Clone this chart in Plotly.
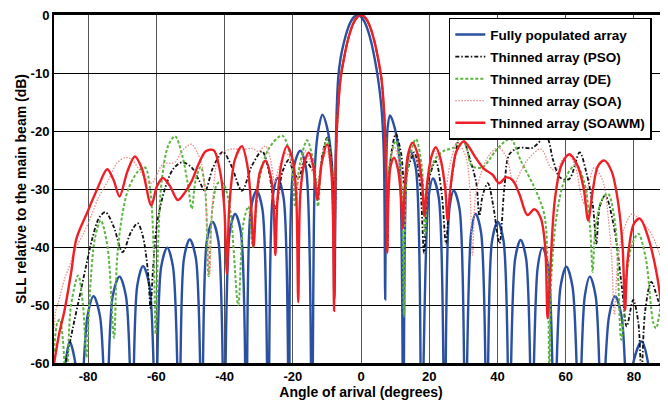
import plotly.graph_objects as go

# ---------------- data ----------------
full_x = [-90, -88.5, -86.5, -85.4, -83.9, -82.4, -80.2, -78.4, -76.5, -74.7, -72.8, -70.8, -68.9, -67.1, -65.6,
          -63.9, -62.0, -60.2, -58.6, -56.8, -55.1, -53.3, -51.9, -50.2, -48.4, -46.7, -45.2, -43.5, -41.8, -40.1,
          -38.5, -36.9, -35.2, -33.6, -32.3, -30.6, -28.9, -27.2, -25.9, -24.5, -22.7, -21.1, -19.8, -17.8, -16.1,
          -14.4, -13.4, -12.4, -11.3, -9.9, -8.5, -7.8, -7.4, -7.1, -6.7,
          -6.0, -5.0, -4.0, -3.0, -2.0, -1.0, 0, 1.0, 2.0, 3.0, 4.0, 5.0, 6.0,
          6.7, 7.1, 7.4, 7.8, 8.5, 9.9, 11.3, 12.4, 13.4, 14.4, 16.1, 17.8, 19.8, 21.1, 22.8,
          24.5, 25.9, 27.2, 28.9, 30.6, 32.3, 33.6, 35.2, 36.9, 38.4, 40.1, 41.8, 43.5, 45.2, 46.8, 48.4, 50.1,
          51.8, 53.2, 54.9, 56.7, 58.5, 60.2, 62.0, 63.9, 65.6, 67.1, 68.8, 70.6, 72.7, 74.5, 76.4, 78.3, 80.0,
          82.3, 84.0, 85.4, 86.5, 88.5, 90]
full_y = [-64, -70, -59.5, -56.3, -59.5, -70, -52, -48.5, -52, -70, -48.5, -45.1, -48.5, -70,
          -46.7, -43.3, -46.7, -70, -43.5, -40.1, -43.5, -70, -42, -38.7, -42, -70, -39, -35.7, -39,
          -70, -37.5, -34.3, -37.5, -70, -33.5, -30.3, -33.5, -70, -31.5, -28.1, -31.5, -70, -26.5, -23.4,
          -26.5, -70, -25, -19.5, -17.2, -19.5, -26, -49, -24, -16,
          -11, -7.5, -4.7, -2.6, -1.15, -0.3, 0, -0.3, -1.15, -2.6, -4.7, -7.5, -11,
          -16, -24, -49, -26, -19.5, -17.3, -19.5, -25, -70, -26.5, -23.4, -26.5, -70, -31.5, -28.2,
          -31.5, -70, -33.5, -30.3, -33.5, -70, -37.5, -34.3, -37.5, -70, -39, -35.7, -39, -70, -42, -38.8, -42,
          -70, -43.5, -40.1, -43.5, -70, -46.8, -43.4, -46.8, -70, -48.5, -45.1, -48.5, -70, -52, -48.5, -52, -70,
          -59.5, -56.3, -59.5, -70, -64, -62]

pso_x = [-90, -87.5, -86.4, -84.5, -82.7, -80.5, -78.8, -76.8, -74.9, -72.5, -69.9, -67.5, -65.5, -64.0, -62.5,
         -61.7, -61.0, -59.8, -57.4, -55.0, -52.5, -49.6, -47.5, -45.7, -43.5, -40.5, -38.0, -34.9, -32.0, -29.0,
         -27.0, -25.1, -23.0, -21.2, -19.5, -18.2, -16.5, -14.0, -12.7, -11.3, -9.9, -8.8, -8.1, -7.8, -7.4, -7.1,
         -6.7, -6.0, -5.0, -4.0, -3.0, -2.0, -1.0, 0, 1.0, 2.0, 3.0, 4.0, 5.0, 6.0,
         6.7, 7.1, 7.4, 7.8, 8.3, 10.2, 11.8, 12.7, 14.0, 15.6,
         17.3, 18.5, 19.7, 21.9, 23.7, 24.9, 26.2, 29.3, 32.0, 33.8, 34.7, 35.7, 37.2, 38.8, 40.6, 42.0, 43.5,
         46.3, 50.2, 54.3, 56.3, 58.3, 61.0, 64.1, 66.0, 68.0, 69.0, 70.0, 71.6, 74.0, 76.5, 77.9, 79.8, 81.3,
         82.2, 83.3, 85.1, 87.0, 88.6, 90]
pso_y = [-66, -62, -59.4, -54, -49.1, -43, -38.6, -35, -34, -36.5, -40.9, -37.5, -35.9, -38, -44,
         -50.5, -44, -36, -29.8, -26.5, -25.4, -26.3, -28.5, -30.3, -26.5, -23.6, -26, -30.3, -26, -23.5,
         -27, -33.3, -27, -25, -27.5, -28, -25.2, -27, -30, -24, -21.1, -24.5, -32, -45, -27, -20,
         -16, -11, -7.5, -4.7, -2.6, -1.15, -0.3, 0, -0.3, -1.15, -2.6, -4.7, -7.5, -11,
         -16, -20, -27, -40, -27, -20.5, -24, -29, -26, -23.7,
         -29, -41, -29, -25.2, -31, -39.4, -30, -20.6, -25, -29, -34.6, -31, -29, -33, -39.4, -30, -24,
         -22.9, -22.9, -21, -25, -28, -28.3, -23.7, -27, -33, -39.4, -33, -31.1, -36, -47, -53.7, -49.1, -53,
         -62, -51, -46, -49, -52, -60]

de_x = [-90, -89.0, -88.3, -87.4, -86.4, -85.0, -82.9, -81.5, -80.5, -79.5, -78.0, -76.3, -74.3, -72.4, -71.5,
        -70.0, -68.2, -65.4, -63.3, -61.8, -60.8, -60.2, -59.5, -58.5, -56.5, -54.5, -52.5, -50.8, -49.6, -48.5,
        -47.0, -45.7, -44.7, -43.5, -42.0, -40.5, -38.5, -36.0, -34.5, -33.0, -31.7, -30.0, -27.0, -23.1, -20.5,
        -19.3, -18.0, -15.8, -13.5, -12.6, -11.5, -9.9, -8.7, -8.0, -7.4, -7.1, -6.7,
        -6.0, -5.0, -4.0, -3.0, -2.0, -1.0, 0, 1.0, 2.0, 3.0, 4.0, 5.0, 6.0,
        6.7, 7.1, 7.7, 8.3, 10.2, 11.6, 12.6, 13.6, 16.1, 17.8, 18.8, 19.8, 22.0, 24.4, 27.3,
        29.3, 31.0, 32.5, 35.5, 39.5, 42.4, 44.0, 46.9, 50.8, 53.7, 54.8, 55.2, 55.8, 57.5, 60.0, 63.0, 65.5,
        67.2, 67.9, 68.7, 70.5, 72.4, 74.5, 76.3, 78.0, 79.5, 81.3, 83.5, 85.7, 86.5, 88.0, 89.0, 90]
de_y = [-58, -53, -52.5, -56, -64, -50, -44.9, -50, -59, -48, -38.5, -35.4, -40, -55.7, -42,
        -34.5, -30, -27, -26.3, -30, -40, -55, -40, -29, -22.5, -20.9, -24, -29, -33.4, -28.5,
        -26.2, -30, -45, -33, -29, -29, -33, -50, -36, -33, -40, -29, -23, -20.8, -25,
        -33, -26, -21.6, -27, -33, -25, -21.4, -26, -40, -25, -20, -16,
        -11, -7.5, -4.7, -2.6, -1.15, -0.3, 0, -0.3, -1.15, -2.6, -4.7, -7.5, -11,
        -16, -20, -35, -26, -21.7, -26, -52, -27, -21.4, -26, -38, -28, -24.6, -23.4, -22.8,
        -20.8, -23, -26, -26.3, -23.4, -21.7, -21.4, -25.2, -29.7, -34.3, -45, -64, -45, -34, -28, -25.8, -29,
        -37, -44.3, -37, -32, -30.8, -36, -56, -44, -39.5, -37.7, -42, -53.1, -54, -50, -48.5, -49]

soa_x = [-90, -89.5, -88.8, -86.9, -85.9, -83.9, -81.2, -79.0, -77.0, -74.1, -71.5, -69.2, -67.5, -65.4, -63.5,
         -61.4, -59.8, -58.1, -54.6, -52.5, -50.7, -49.6, -48.2, -46.7, -45.5, -44.4, -43.5, -42.0, -40.0, -37.8,
         -35.0, -32.0, -30.0, -28.0, -26.5, -25.3, -24.2, -22.0, -20.0, -19.0, -18.0, -16.3, -14.5, -13.0, -11.5,
         -10.0, -8.8, -8.1, -7.5, -7.1, -6.7,
         -6.0, -5.0, -4.0, -3.0, -2.0, -1.0, 0, 1.0, 2.0, 3.0, 4.0, 5.0, 6.0,
         6.7, 7.1, 7.5, 8.0,
         8.7, 9.7, 11.0, 12.3, 13.3, 15.1, 16.8, 18.5, 19.8, 21.5, 23.5, 24.8, 26.0, 28.3, 30.8, 31.9, 32.7, 33.6,
         35.2, 37.2, 40.2, 42.6, 44.9, 46.8, 48.8, 52.7, 55.6, 57.1, 59.6, 61.0, 62.8, 64.5, 65.5, 66.8, 68.4,
         70.9, 72.5, 73.5, 74.3, 75.2, 77.0, 79.5, 82.0, 84.7, 86.5, 88.6, 90]
soa_y = [-54, -51, -49.7, -45.5, -44, -40.6, -37.5, -34.5, -31.5, -28.5, -25.5, -24.6, -24.8, -26.3, -28,
         -29, -27.5, -25.7, -25.4, -23.5, -22.5, -22.3, -23.5, -25.7, -32, -45, -32, -25, -23.5, -23.1,
         -23.2, -23, -23.5, -22.6, -25, -29, -26.5, -23.8, -26, -31, -27, -23.4, -26, -29, -25.5,
         -23.5, -27, -36, -26, -20, -16,
         -11, -7.5, -4.7, -2.6, -1.15, -0.3, 0, -0.3, -1.15, -2.6, -4.7, -7.5, -11,
         -16, -20, -26, -34,
         -26, -22.6, -25, -32, -26.5, -24, -26, -32, -27, -23.5, -26, -30, -26, -22, -24.5, -30, -41.4, -31,
         -27.3, -24.5, -22.8, -24.5, -29.1, -27, -25, -23.1, -26.3, -26.9, -24.5, -24.2, -26, -31, -32.6, -29, -26.3,
         -28.6, -35, -42, -51.7, -43, -37, -34.3, -35.5, -37.3, -39.5, -43, -45]

soawm_x = [-90.5, -88.5, -86.9, -85.0, -83.4, -80.0, -77.1, -74.4, -72.5, -70.8, -68.5, -66.3, -64.2, -61.5,
           -59.8, -58.1, -56.0, -53.7, -51.5, -49.6, -47.6, -45.5, -43.2, -41.3, -40.1, -39.3, -38.6, -37.0, -34.9,
           -33.3, -32.3, -31.5, -30.7, -29.6, -28.0, -26.4, -25.6, -25.1, -24.5, -23.3, -21.7, -20.0, -19.0,
           -18.4, -17.8, -16.6, -15.3, -14.0, -12.8, -11.5, -9.9, -8.7, -8.2, -7.9, -7.5, -7.1, -6.7,
           -6.0, -5.0, -4.0, -3.0, -2.0, -1.0, 0, 1.0, 2.0, 3.0, 4.0, 5.0, 6.0,
           6.7, 7.1, 7.4, 7.7, 8.1, 8.7, 9.7, 10.8, 11.7, 12.2, 12.8, 13.8, 15.1,
           16.6, 17.9, 18.6, 19.4, 20.6, 21.9, 23.4, 24.7, 25.4, 26.2, 28.0, 30.2, 33.5, 36.0, 38.5, 40.5, 42.5,
           44.5, 46.5, 48.8, 50.8, 52.7, 54.0, 54.7, 55.4, 56.8, 58.7, 61.1, 63.5, 65.3, 66.6, 68.0, 69.5, 71.4,
           73.5, 75.3, 76.7, 77.4, 78.2, 80.0, 81.8, 84.0, 86.5, 88.0, 89.1, 90.5]
soawm_y = [-62, -55, -50.9, -44.5, -38.5, -33.7, -29.7, -26.6, -28.5, -31.3, -27, -24.4, -26.5, -32.8,
           -29.5, -28.1, -29.5, -31.9, -30.5, -28.6, -25.7, -23.5, -23.3, -27, -33, -44.6, -33, -25, -22.6,
           -26, -32, -40, -32, -27, -25.1, -28, -33, -41.4, -32, -25.5, -22.6, -25, -31,
           -49.5, -31, -25.5, -23.7, -26, -31.8, -25.5, -22.3, -27, -35, -51, -28, -20, -16,
           -11, -7.5, -4.7, -2.6, -1.15, -0.3, 0, -0.3, -1.15, -2.6, -4.7, -7.5, -11,
           -16, -22, -28, -41, -30, -26, -24.6, -26.5, -31, -36.8, -30, -24, -22,
           -24, -29, -34.6, -29, -24.5, -22.8, -25, -30, -35.4, -30, -23.5, -21.8, -24.5, -26.5, -27.5, -29, -28,
           -28.5, -31, -34.5, -33.5, -35, -40, -52.3, -45, -32, -26, -24, -26, -30, -35.4, -30, -26, -25.1,
           -27, -32, -40, -50.9, -42, -36, -35.1, -38, -44, -50, -59.4, -63]

names = ["Fully populated array", "Thinned array (PSO)", "Thinned array (DE)",
         "Thinned array (SOA)", "Thinned array (SOAWM)"]
x_ticks = [-80, -60, -40, -20, 0, 20, 40, 60, 80]
y_ticks = [0, -10, -20, -30, -40, -50, -60]

# ---------------- figure ----------------
FONT = "Arial, Liberation Sans, sans-serif"
series = [
    (full_x, full_y, dict(color="#2a50a2", width=2.4)),
    (pso_x, pso_y, dict(color="#111111", width=1.8, dash="4px,2px,1.5px,2px")),
    (de_x, de_y, dict(color="#5cb440", width=2.0, dash="3px,2px")),
    (soa_x, soa_y, dict(color="#f28a8a", width=1.3, dash="1.5px,1.5px")),
    (soawm_x, soawm_y, dict(color="#ee1f26", width=2.4)),
]

fig = go.Figure()
for i, ((xs, ys, ln), nm) in enumerate(zip(series, names)):
    fig.add_trace(go.Scatter(x=xs, y=ys, mode="lines", name=nm, legendgroup=f"g{i}",
                             line=dict(shape="spline", smoothing=0.9, **ln)))

# the page body has an 8px margin, so the figure is drawn 8px smaller with 8px smaller left/top margins
fig.update_layout(
    width=660, height=400,
    margin=dict(l=46, r=0, t=5, b=45),
    paper_bgcolor="white", plot_bgcolor="white",
    font=dict(family=FONT, size=13, color="black"),
    legend=dict(x=0.643, y=0.992, xanchor="left", yanchor="top",
                bgcolor="white", bordercolor="black", borderwidth=1.5,
                font=dict(family=FONT, size=13.5, color="black", weight=700),
                itemwidth=30, tracegroupgap=1.5),
    showlegend=True,
)
fig.update_xaxes(range=[-90, 90], tickvals=x_ticks, ticktext=[str(v) for v in x_ticks],
                 showgrid=True, gridcolor="#555555", gridwidth=1, zeroline=False,
                 showline=True, linecolor="black", linewidth=2.5, mirror=True,
                 ticks="", tickfont=dict(family=FONT, size=13, weight=700),
                 ticklabeloverflow="allow",
                 title=dict(text="Angle of arival (degrees)", standoff=4,
                            font=dict(family=FONT, size=14, weight=700)))
fig.update_yaxes(range=[-60, 0], tickvals=y_ticks, ticktext=[str(v) for v in y_ticks],
                 showgrid=True, gridcolor="black", gridwidth=1, zeroline=False,
                 showline=True, linecolor="black", linewidth=2,
                 ticks="", tickfont=dict(family=FONT, size=13, weight=700),
                 ticklabeloverflow="allow",
                 title=dict(text="SLL relative to the main beam (dB)", standoff=1,
                            font=dict(family=FONT, size=14, weight=700)))

fig.write_html("out.html")
